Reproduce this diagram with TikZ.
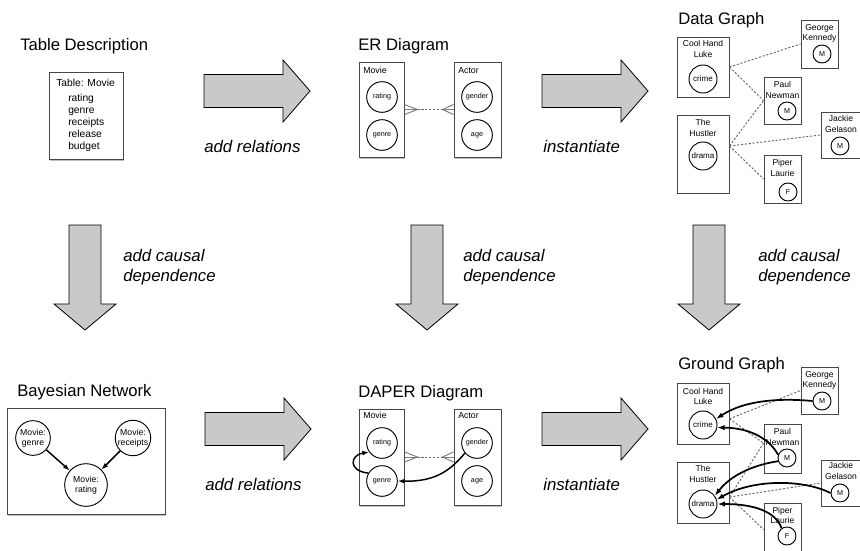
\documentclass[tikz,border=0pt]{standalone}
\usepackage{fontspec}
\setmainfont{Liberation Sans}
\usetikzlibrary{arrows.meta,fit,shadows}

\tikzset{
  title/.style={anchor=base west, inner sep=0pt, font=\fontsize{12.5}{15}\selectfont},
  steplabel/.style={anchor=base west, inner sep=0pt, font=\fontsize{12.6}{15}\selectfont\itshape},
  bigarrow/.style={draw=black, line width=0.6pt, fill=black!21, line join=miter},
  panel/.style={draw=black!72, line width=0.75pt, fill=white, inner sep=0pt,
    drop shadow={shadow xshift=1pt, shadow yshift=-1.3pt, fill=black!50, opacity=0.5}},
  entity/.style={draw=black!72, line width=0.75pt, inner sep=0pt},
  tabtext/.style={anchor=base west, inner sep=0pt, font=\fontsize{7.7}{9}\selectfont},
  platelabel/.style={anchor=base west, inner sep=0pt, font=\fontsize{6.6}{8}\selectfont},
  attr/.style={circle, draw=black, line width=0.7pt, fill=white, inner sep=0pt,
    minimum size=23pt, font=\fontsize{5.4}{6}\selectfont},
  bnvar/.style={circle, draw=black, line width=0.7pt, inner sep=0pt, align=center,
    font=\fontsize{6.5}{7.8}\selectfont},
  entname/.style={align=center, inner sep=0pt, font=\fontsize{6.4}{7.6}\selectfont},
  val/.style={circle, draw=black, line width=0.7pt, inner sep=0pt, minimum size=21pt,
    font=\fontsize{6}{7}\selectfont},
  sval/.style={val, minimum size=13.5pt, font=\fontsize{5.4}{6}\selectfont},
  link/.style={draw=black!60, line width=0.7pt, dash pattern=on 1.6pt off 1.3pt},
  crow/.style={draw=black!50, line width=0.75pt},
  dep/.style={line width=1.1pt, -{Latex[length=5pt,width=3.6pt]}},
  grounddep/.style={line width=1.3pt, -{Latex[length=5.5pt,width=4pt]}},
  rarrow/.pic={\draw[bigarrow] (0,-16.5) -- (79,-16.5) -- (79,-31) -- (106,0)
      -- (79,31) -- (79,16.5) -- (0,16.5) -- cycle;},
  darrow/.pic={\draw[bigarrow] (-16,0) -- (16,0) -- (16,79) -- (31,79) -- (0,105)
      -- (-31,79) -- (-16,79) -- cycle;}
}

\begin{document}
\begin{tikzpicture}[x=0.75pt, y=-0.75pt]
\useasboundingbox (0,0) rectangle (860,550);

% ---------- transformation arrows ----------
\pic at (204,91) {rarrow};
\pic at (542,91) {rarrow};
\pic at (205,429) {rarrow};
\pic at (542,429) {rarrow};
\pic at (85,225) {darrow};
\pic at (427,225) {darrow};
\pic at (709,225) {darrow};

\node[steplabel] (rel1) at (204,152) {add relations};
\node[steplabel] (inst1) at (543,152) {instantiate};
\node[steplabel] (rel2) at (205,490) {add relations};
\node[steplabel] (inst2) at (543,490) {instantiate};
\node[steplabel] (caus1a) at (123,261) {add causal};
\node[steplabel] (caus1b) at (123,281) {dependence};
\node[steplabel] (caus2a) at (463,261) {add causal};
\node[steplabel] (caus2b) at (463,281) {dependence};
\node[steplabel] (caus3a) at (758,261) {add causal};
\node[steplabel] (caus3b) at (758,281) {dependence};

% ---------- table description ----------
\node[title] (ttab) at (20,50) {Table Description};
\node[panel, fit={(49,72) (123,159)}] (table) {};
\node[tabtext] (tabhead) at (56,86.5) {Table: Movie};
\foreach \w [count=\i] in {rating,genre,receipts,release,budget}
  \node[tabtext] (tab\i) at (68,{89+12*\i}) {\w};

% ---------- ER diagram ----------
\node[title] (ter) at (358,50) {ER Diagram};
\node[panel, fit={(359,62) (404,157)}] (ermovie) {};
\node[panel, fit={(454,62) (501,157)}] (eractor) {};
\node[platelabel] (ermlab) at (363,73) {Movie};
\node[platelabel] (eralab) at (458,73) {Actor};
\node[attr] (errating) at (382,97) {rating};
\node[attr] (ergenre) at (382,135) {genre};
\node[attr] (ergender) at (477,97) {gender};
\node[attr] (erage) at (477,135) {age};
\coordinate (erL) at ([xshift=9.75pt]ermovie.east);
\coordinate (erR) at ([xshift=-8.25pt]eractor.west);
\draw[crow] ([yshift=3.75pt]ermovie.east) -- (erL) -- ([yshift=-3.75pt]ermovie.east);
\draw[crow] (ermovie.east) -- (erL);
\draw[crow] ([yshift=3.75pt]eractor.west) -- (erR) -- ([yshift=-3.75pt]eractor.west);
\draw[crow] (eractor.west) -- (erR);
\draw[link] (erL) -- (erR);

% ---------- data graph ----------
\node[title] (tdata) at (678,24) {Data Graph};
\node[entity, fit={(677,37) (729,97)}] (chl) {};
\node[entname] (chlname) at (703,49) {Cool Hand\\Luke};
\node[val] (crime) at (703,79) {crime};
\node[entity, fit={(677,115) (729,193)}] (hus) {};
\node[entname] (husname) at (703,128) {The\\Hustler};
\node[val] (drama) at (703,156) {drama};
\node[entity, fit={(801,20) (838,68)}] (gk) {};
\node[entname] (gkname) at (819.5,33.5) {George\\Kennedy};
\node[sval] (gkm) at (822,54) {M};
\node[entity, fit={(764,77) (801,124)}] (pn) {};
\node[entname] (pnname) at (782.5,90) {Paul\\Newman};
\node[sval] (pnm) at (787,111) {M};
\node[entity, fit={(821,112) (862,158)}] (jg) {};
\node[entname] (jgname) at (841,124) {Jackie\\Gelason};
\node[sval] (jgm) at (840,146) {M};
\node[entity, fit={(764,155) (801,203)}] (pl) {};
\node[entname] (plname) at (782.5,168) {Piper\\Laurie};
\node[sval] (plf) at (788,192) {F};
\coordinate (husout) at ([yshift=6pt]hus.east);
\draw[link] (chl.east) -- (gk.west);
\draw[link] (chl.east) -- (pn.west);
\draw[link] (husout) -- (pn.west);
\draw[link] (husout) -- (jg.west);
\draw[link] (husout) -- (pl.west);

% ---------- Bayesian network ----------
\node[title] (tbn) at (17,396) {Bayesian Network};
\node[panel, fit={(7,408) (165,514)}] (bnbox) {};
\node[bnvar, minimum size=26pt] (bgenre) at (33,438) {Movie:\\genre};
\node[bnvar, minimum size=26pt] (breceipts) at (133,438) {Movie:\\receipts};
\node[bnvar, minimum size=32pt] (brating) at (86,485) {Movie:\\rating};
\draw[dep] (bgenre) -- (brating);
\draw[dep] (breceipts) -- (brating);

% ---------- DAPER diagram ----------
\node[title] (tdaper) at (358,397) {DAPER Diagram};
\node[panel, fit={(359,409) (404,505)}] (dmovie) {};
\node[panel, fit={(454,409) (501,505)}] (dactor) {};
\node[platelabel] (dmlab) at (363,418) {Movie};
\node[platelabel] (dalab) at (458,418) {Actor};
\node[attr] (drating) at (382,443) {rating};
\node[attr] (dgenre) at (382,481) {genre};
\node[attr] (dgender) at (477,443) {gender};
\node[attr] (dage) at (477,481) {age};
\coordinate (dL) at ([xshift=9.75pt]dmovie.east);
\coordinate (dR) at ([xshift=-8.25pt]dactor.west);
\draw[crow] ([yshift=3.75pt]dmovie.east) -- (dL) -- ([yshift=-3.75pt]dmovie.east);
\draw[crow] (dmovie.east) -- (dL);
\draw[crow] ([yshift=3.75pt]dactor.west) -- (dR) -- ([yshift=-3.75pt]dactor.west);
\draw[crow] (dactor.west) -- (dR);
\draw[link] (dL) -- (dR);
\draw[dep] (dgenre.150) .. controls (348,471) and (350,455) .. (drating.215);
\draw[dep] (dgender.220) .. controls (452,468) and (438,482) .. (dgenre.east);

% ---------- ground graph ----------
\node[title] (tground) at (678,369) {Ground Graph};
\node[entity, fit={(677,383) (729,444)}] (gchl) {};
\node[entname] (gchlname) at (703,396.5) {Cool Hand\\Luke};
\node[val] (gcrime) at (703,425) {crime};
\node[entity, fit={(677,462) (729,523)}] (ghus) {};
\node[entname] (ghusname) at (703,474) {The\\Hustler};
\node[val] (gdrama) at (703,504) {drama};
\node[entity, fit={(801,367) (838,414)}] (ggk) {};
\node[entname] (ggkname) at (819.5,380.5) {George\\Kennedy};
\node[sval] (ggkm) at (822,401) {M};
\node[entity, fit={(764,424) (801,473)}] (gpn) {};
\node[entname] (gpnname) at (782.5,437) {Paul\\Newman};
\node[sval] (gpnm) at (787,458) {M};
\node[entity, fit={(821,460) (862,506)}] (gjg) {};
\node[entname] (gjgname) at (841,471) {Jackie\\Gelason};
\node[sval] (gjgm) at (840,493) {M};
\node[entity, fit={(764,503) (801,556)}] (gpl) {};
\node[entname] (gplname) at (782.5,515.5) {Piper\\Laurie};
\node[sval] (gplf) at (787,536) {F};
\coordinate (gchlout) at ([yshift=-4pt]gchl.east);
\coordinate (ghusout) at ([yshift=-3.4pt]ghus.east);
\coordinate (gpnin) at ([yshift=4pt]gpn.west);
\draw[link] (gchlout) -- (ggk.west);
\draw[link] (gchlout) -- (gpnin);
\draw[link] (ghusout) -- (gpnin);
\draw[link] (ghusout) -- (gjg.west);
\draw[link] (ghusout) -- (gpl.west);
\draw[grounddep] (ggkm.west) .. controls (780,398) and (745,400) .. (gcrime.25);
\draw[grounddep] (gpnm.160) .. controls (770,440) and (752,428) .. (gcrime.-10);
\draw[grounddep] (gpnm.200) .. controls (765,463) and (735,470) .. (gdrama.35);
\draw[grounddep] (gjgm.west) .. controls (805,480) and (755,478) .. (gdrama.18);
\draw[grounddep] (gplf.125) .. controls (776,512) and (755,504) .. (gdrama.0);
\end{tikzpicture}
\end{document}
